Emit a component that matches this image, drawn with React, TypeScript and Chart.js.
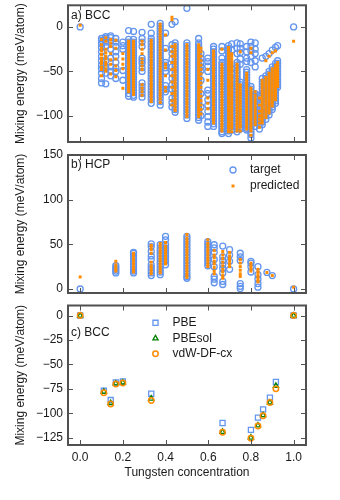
import React, { useEffect, useRef } from 'react';
import { Chart, registerables } from 'chart.js';

Chart.register(...registerables);

const FONT = '"Liberation Sans", Arial, sans-serif';
const TEXT = '#1a1a1a';
const BLUE = '#6495ED';
const ORANGE = '#FF8C00';
const GREEN = '#008000';
const FRAME = '#505050';

// ---- tick values ----
const xTickValues = [0, 0.2, 0.4, 0.6, 0.8, 1.0];
const bccYTicks = [-100, -50, 0];
const hcpYTicks = [0, 50, 100, 150];
const dftYTicks = [-125, -100, -75, -50, -25, 0];

// ---- panel a) BCC: target vs predicted ----
const bccConc = [
  0.0, 0.1, 0.12, 0.143, 0.167, 0.2, 0.227, 0.25, 0.29, 0.333, 0.375, 0.4, 0.43, 0.445,
  0.5, 0.555, 0.566, 0.598, 0.625, 0.664, 0.695, 0.71, 0.735, 0.75, 0.78, 0.8, 0.82,
  0.84, 0.853, 0.87, 0.885, 0.9, 0.915, 0.925, 1.0,
];
const bccTarget = [
  [0],
  [-13, -15, -19, -23, -28, -33, -38, -43, -47, -52, -58, -63],
  [-11, -13, -17, -22, -38, -45, -52, -64],
  [-10, -12, -16, -25, -35, -45, -50, -55],
  [-13, -17, -22, -28, -33, -40, -46, -50, -58],
  [-17, -21, -25, -49, -60],
  [-4, -14, -17, -20, -23, -26, -29, -32, -35, -38, -41, -44, -47, -50, -53, -56, -59, -62, -65, -68, -71, -75, -78],
  [-5, -14, -17, -20, -23, -26, -29, -32, -35, -38, -41, -44, -47, -50, -53, -56, -59, -62, -65, -68, -71, -74, -77, -79],
  [-6, -13, -17, -22, -35, -38, -41, -46, -50, -63, -67, -71, -75, -79],
  [3, -7, -13, -16, -19, -22, -25, -28, -31, -34, -37, -40, -43, -46, -49, -52, -55, -58, -61, -64, -67, -70, -73, -76, -79, -82, -86],
  [4, 1, -2, -5, -8, -11, -14, -17, -20, -23, -26, -29, -32, -35, -38, -41, -44, -47, -50, -53, -56, -59, -62, -65, -68, -71, -74, -77, -80, -84, -88],
  [-7, -24, -40, -43, -46, -50, -66, -70, -73],
  [3, -20, -25, -30, -36, -45, -52, -58, -65, -70, -80, -85, -90],
  [6, -18, -21, -24, -27, -30, -33, -36, -39, -42, -45, -48, -51, -54, -57, -60, -63, -66, -69, -72, -75, -78, -81, -84, -87, -90, -93, -96],
  [21, -18, -21, -24, -27, -30, -33, -36, -39, -42, -45, -48, -51, -54, -57, -60, -63, -66, -69, -72, -75, -78, -81, -84, -87, -90, -93, -96, -99, -103],
  [-13, -18, -21, -24, -27, -30, -33, -36, -39, -42, -45, -48, -51, -54, -57, -60, -63, -66, -69, -72, -75, -78, -81, -84, -87, -90, -93, -96, -99, -102, -105],
  [-30, -35, -40, -45, -49, -60, -75, -90, -100],
  [-35, -39, -44, -50, -71, -75, -82, -88, -95, -101, -107, -112],
  [-22, -25, -28, -31, -34, -37, -40, -43, -46, -49, -52, -55, -58, -61, -64, -67, -70, -73, -76, -79, -82, -85, -88, -91, -94, -97, -100, -103, -106, -109, -112],
  [-22, -27, -35, -40, -43, -46, -49, -52, -55, -58, -61, -64, -67, -70, -73, -76, -79, -82, -85, -88, -91, -94, -97, -100, -103, -106, -109, -112, -115, -118, -120],
  [-21, -24, -27, -30, -33, -36, -39, -42, -45, -48, -51, -54, -57, -60, -63, -66, -69, -72, -75, -78, -81, -84, -87, -90, -93, -96, -99, -102, -105, -108, -111, -114, -117, -120],
  [-19, -26, -47, -52, -60, -64, -68, -72, -76, -80, -84, -88, -92, -96, -100, -104, -108, -112, -116],
  [-18, -24, -30, -40, -43, -46, -49, -52, -55, -58, -61, -64, -67, -70, -73, -76, -79, -82, -85, -88, -91, -94, -97, -100, -103, -106, -109, -112, -115, -118],
  [-19, -24, -29, -36, -42, -62, -65, -68, -71, -74, -77, -80, -83, -86, -89, -92, -95, -98, -101, -104, -107, -110, -113, -115],
  [-22, -28, -35, -39, -48, -51, -54, -57, -60, -63, -66, -69, -72, -75, -78, -81, -84, -87, -90, -93, -96, -99, -102, -105, -108, -111, -114, -116],
  [-17, -22, -27, -33, -40, -67, -70, -73, -76, -79, -82, -85, -88, -91, -94, -97, -100, -103, -106, -109, -112, -115, -118, -121, -125],
  [-18, -25, -30, -38, -45, -75, -78, -81, -84, -87, -90, -93, -96, -99, -102, -105, -108, -112],
  [-77, -85, -92, -97, -101, -105, -110, -115],
  [-35, -58, -62, -66, -70, -74, -78, -82, -86, -90, -94, -98, -103, -107, -110],
  [-33, -55, -58, -61, -64, -67, -70, -73, -76, -79, -82, -85, -88, -91, -94, -97, -100, -104],
  [-30, -50, -53, -56, -59, -62, -65, -68, -71, -74, -77, -80, -83, -86, -89, -92, -95, -99],
  [-26, -45, -48, -51, -54, -57, -60, -63, -66, -69, -72, -75, -78, -81, -84, -87, -90, -93],
  [-23, -41, -44, -47, -50, -53, -56, -59, -62, -65, -68, -71, -74, -77, -80, -83, -86],
  [-21, -38, -41, -44, -47, -50, -53, -56, -59, -62, -65, -68],
  [0],
];
const bccPredicted = [
  [2],
  [-14, -20, -24, -27, -31, -35, -38, -41, -45, -48, -55],
  [-12, -16, -25, -29, -33, -36, -40, -43, -47, -50],
  [-14, -18, -22, -30, -37, -42, -53],
  [-15, -24, -36, -44, -49, -56],
  [-30, -36, -42, -47, -69],
  [-16, -19, -22, -25, -28, -31, -34, -37, -40, -43, -46, -49, -52, -55, -58, -61, -64, -67, -70, -73],
  [-16, -19, -22, -25, -28, -31, -34, -37, -40, -43, -46, -49, -52, -55, -58, -61, -64, -67, -70, -73, -76],
  [-16, -20, -25, -30, -36, -40, -44, -48, -65, -69, -73, -77],
  [-15, -18, -21, -24, -27, -30, -33, -36, -39, -42, -45, -48, -51, -54, -57, -60, -63, -66, -69, -72, -75, -78, -81, -84],
  [3, 0, -3, -6, -9, -12, -15, -18, -21, -24, -27, -30, -33, -36, -39, -42, -45, -48, -51, -54, -57, -60, -63, -66, -69, -72, -75, -78, -81, -85],
  [-9, -26, -42, -46, -55, -68, -72],
  [8, 11, -22, -28, -33, -40, -48, -55, -62, -68, -75, -83, -88],
  [-20, -23, -26, -29, -32, -35, -38, -41, -44, -47, -50, -53, -56, -59, -62, -65, -68, -71, -74, -77, -80, -83, -86, -89, -92, -94],
  [-20, -23, -26, -29, -32, -35, -38, -41, -44, -47, -50, -53, -56, -59, -62, -65, -68, -71, -74, -77, -80, -83, -86, -89, -92, -95, -98, -101],
  [-20, -23, -26, -29, -32, -35, -38, -41, -44, -47, -50, -53, -56, -59, -62, -65, -68, -71, -74, -77, -80, -83, -86, -89, -92, -95, -98, -101],
  [-24, -28, -33, -38, -43, -48, -53, -58, -63, -68, -73, -78, -83, -88, -93, -98],
  [-48, -60, -80, -86, -92],
  [-27, -30, -33, -36, -39, -42, -45, -48, -51, -54, -57, -60, -63, -66, -69, -72, -75, -78, -81, -84, -87, -90, -93, -96, -99, -102, -105, -108],
  [-25, -42, -45, -48, -51, -54, -57, -60, -63, -66, -69, -72, -75, -78, -81, -84, -87, -90, -93, -96, -99, -102, -105, -108, -111, -114, -117],
  [-23, -26, -29, -32, -35, -38, -41, -44, -47, -50, -53, -56, -59, -62, -65, -68, -71, -74, -77, -80, -83, -86, -89, -92, -95, -98, -101, -104, -107, -110, -113, -116, -118],
  [-30, -33, -36, -39, -42, -45, -48, -51, -54, -57, -60, -63, -66, -69, -72, -75, -78, -81, -84, -87, -90, -93, -96, -99, -102, -105, -108, -111, -114, -118],
  [-42, -45, -48, -51, -54, -57, -60, -63, -66, -69, -72, -75, -78, -81, -84, -87, -90, -93, -96, -99, -102, -105, -108, -111, -114, -117],
  [-28, -65, -68, -71, -74, -77, -80, -83, -86, -89, -92, -95, -98, -101, -104, -107, -110, -113, -117],
  [-52, -55, -58, -61, -64, -67, -70, -73, -76, -79, -82, -85, -88, -91, -94, -97, -100, -103, -106, -109, -112, -115],
  [-24, -29, -69, -72, -75, -78, -81, -84, -87, -90, -93, -96, -99, -102, -105, -108, -111, -114, -117, -122],
  [-73, -77, -80, -83, -86, -89, -92, -95, -98, -101, -104, -107, -110],
  [-80, -88, -95, -100, -104, -108, -113],
  [-60, -63, -66, -69, -72, -75, -78, -81, -84, -87, -90, -93, -96, -99, -102, -105, -108],
  [-38, -57, -60, -63, -66, -69, -72, -75, -78, -81, -84, -87, -90, -93, -96, -99, -102],
  [-33, -52, -55, -58, -61, -64, -67, -70, -73, -76, -79, -82, -85, -88, -91, -94, -97],
  [-29, -47, -50, -53, -56, -59, -62, -65, -68, -71, -74, -77, -80, -83, -86, -89],
  [-27, -43, -46, -49, -52, -55, -58, -61, -64, -67, -70, -73, -76, -79, -82],
  [-40, -43, -46, -49, -52, -55, -58, -61, -64, -67],
  [-16],
];

// ---- panel b) HCP: target vs predicted ----
const hcpConc = [0.0, 0.167, 0.25, 0.333, 0.375, 0.4, 0.5, 0.598, 0.628, 0.668, 0.7, 0.75, 0.8, 0.833, 0.875, 0.9, 1.0];
const hcpTarget = [
  [0],
  [18, 20, 22, 24, 26],
  [18, 20, 22, 25, 28, 31, 34, 37, 40, 41],
  [15, 18, 21, 24, 27, 33, 37, 42, 47.5, 50.6],
  [16, 19, 22, 25, 28, 31, 34, 37, 40, 43, 46, 49.5],
  [59, 55, 49.5, 46, 43, 40, 37, 34, 31, 27],
  [59, 56, 53, 50, 47, 44, 41, 38, 35, 32, 29, 26, 23, 20, 17, 14, 12],
  [53, 50, 47, 44, 41, 38, 35, 32, 29, 26],
  [49.5, 46, 41, 33, 25, 14, 11, 7],
  [48, 36, 32, 27, 23, 18, 8.5, 5],
  [44, 38, 31, 22],
  [40, 36, 32, 6, 3, 0.5],
  [31, 29, 25, 19],
  [25, 16, 11, 6, 2],
  [18.5],
  [15],
  [0],
];
const hcpPredicted = [
  [13.5],
  [31, 27, 24, 22, 20],
  [19, 21, 23, 26, 29, 32, 35, 38, 40],
  [17, 20, 23, 26, 30, 40, 44, 47, 49],
  [18, 21, 24, 27, 30, 33, 36, 39, 42, 45, 48, 51],
  [52, 48, 45, 42, 39, 36, 33, 30, 28],
  [61, 57, 54, 51, 48, 45, 42, 39, 36, 33, 30, 27, 24, 21, 18, 15, 13],
  [55, 51, 48, 45, 42, 39, 36, 33, 30, 27, 25],
  [43, 38, 35, 31, 28, 24, 20, 17],
  [42, 38, 34, 30, 26, 22, 19, 15, 12],
  [41, 37, 34, 31, 28, 25],
  [33, 29, 25, 21, 17, 14],
  [29, 26, 23, 20],
  [22, 19, 16, 13, 10, 8],
  [18.5],
  [15],
  [2],
];

// ---- panel c) BCC: functionals ----
const dftConc = [0.0, 0.111, 0.143, 0.167, 0.2, 0.333, 0.667, 0.8, 0.833, 0.857, 0.889, 0.917, 1.0];
const pbe = [0, -77, -86.5, -68.5, -67.5, -80, -110, -117, -104.5, -96, -84, -68, 0];
const pbesol = [0, -78, -89.5, -69.5, -68.5, -85, -119, -125, -112.5, -102, -89, -72, 0];
const vdwDfCx = [0, -79, -90.5, -70, -69, -87, -119.5, -125.5, -113, -102.5, -89, -75, 0];

const toPoints = (xs: number[], groups: number[][]) =>
  xs.flatMap((x, i) => groups[i].map((y) => ({ x, y })));
const toPairs = (xs: number[], ys: number[]) => xs.map((x, i) => ({ x, y: ys[i] }));

const minus = (v: number | string) => String(v).replace('-', '\u2212');

type LegendItem = { text: string; style: 'circle' | 'rect' | 'triangle'; color: string; fill: boolean; r: number; lw: number };
type Decor = {
  yTicks: number[];
  label: string;
  labelDx: number;
  labelDy: number;
  legend: LegendItem[];
  legendDx: number;
  legendDy: number;
  legendGap: number;
};

function drawMarker(ctx: CanvasRenderingContext2D, it: LegendItem, x: number, y: number) {
  ctx.beginPath();
  if (it.style === 'circle') {
    ctx.arc(x, y, it.r, 0, Math.PI * 2);
  } else if (it.style === 'rect') {
    const s = it.r * Math.SQRT1_2;
    ctx.rect(x - s, y - s, 2 * s, 2 * s);
  } else {
    for (let k = 0; k < 3; k++) {
      const a = (k * 2 * Math.PI) / 3;
      const px = x + Math.sin(a) * it.r;
      const py = y - Math.cos(a) * it.r;
      if (k === 0) ctx.moveTo(px, py);
      else ctx.lineTo(px, py);
    }
    ctx.closePath();
  }
  if (it.fill) {
    ctx.fillStyle = it.color;
    ctx.fill();
  } else {
    ctx.strokeStyle = it.color;
    ctx.lineWidth = it.lw;
    ctx.stroke();
  }
}

function makeDecor(cfg: Decor) {
  return {
    id: 'decor',
    afterDatasetsDraw(chart: any) {
      const { ctx, chartArea } = chart;
      const { left, right, top, bottom } = chartArea;
      const xs = chart.scales.x;
      const ys = chart.scales.y;
      ctx.save();
      ctx.strokeStyle = FRAME;
      ctx.lineWidth = 1;
      ctx.beginPath();
      for (const v of xTickValues) {
        const px = Math.round(xs.getPixelForValue(v)) + 0.5;
        ctx.moveTo(px, bottom);
        ctx.lineTo(px, bottom - 5);
        ctx.moveTo(px, top);
        ctx.lineTo(px, top + 5);
      }
      for (const v of cfg.yTicks) {
        const py = Math.round(ys.getPixelForValue(v)) + 0.5;
        ctx.moveTo(left, py);
        ctx.lineTo(left + 5, py);
        ctx.moveTo(right, py);
        ctx.lineTo(right - 5, py);
      }
      ctx.stroke();
      ctx.lineWidth = 2;
      ctx.strokeRect(left, top, right - left, bottom - top);

      ctx.font = `12px ${FONT}`;
      ctx.fillStyle = TEXT;
      ctx.textBaseline = 'middle';
      ctx.textAlign = 'left';
      ctx.fillText(cfg.label, left + cfg.labelDx, top + cfg.labelDy);

      cfg.legend.forEach((it, i) => {
        const mx = left + cfg.legendDx;
        const my = top + cfg.legendDy + i * cfg.legendGap;
        drawMarker(ctx, it, mx, my);
        ctx.fillStyle = TEXT;
        ctx.fillText(it.text, mx + 17, my);
      });
      ctx.restore();
    },
  };
}

const tickFont = { family: FONT, size: 12 };

function yScale(min: number, max: number, ticks: number[]) {
  return {
    type: 'linear',
    min,
    max,
    afterBuildTicks: (s: any) => {
      s.ticks = ticks.map((value) => ({ value }));
    },
    afterFit: (s: any) => {
      s.width = 68;
      s.paddingTop = 0;
      s.paddingBottom = 0;
    },
    grid: { display: false, drawTicks: false },
    border: { display: false },
    ticks: { padding: 5, color: TEXT, font: tickFont, callback: (v: any) => minus(v) },
    title: {
      display: true,
      text: 'Mixing energy (meV/atom)',
      color: TEXT,
      font: tickFont,
      padding: { top: 13, bottom: 0 },
    },
  };
}

function xScale(withLabels: boolean) {
  return {
    type: 'linear',
    min: -0.057,
    max: 1.058,
    afterBuildTicks: (s: any) => {
      s.ticks = xTickValues.map((value) => ({ value }));
    },
    afterFit: (s: any) => {
      s.height = withLabels ? 55 : 0;
      s.paddingLeft = 0;
      s.paddingRight = 0;
    },
    grid: { display: false, drawTicks: false },
    border: { display: false },
    ticks: {
      display: withLabels,
      padding: 5,
      color: TEXT,
      font: tickFont,
      maxRotation: 0,
      autoSkip: false,
      callback: (v: any) => Number(v).toFixed(1),
    },
    title: {
      display: withLabels,
      text: 'Tungsten concentration',
      color: TEXT,
      font: tickFont,
      padding: { top: 0, bottom: 20 },
    },
  };
}

const targetLegend: LegendItem = { text: 'target', style: 'circle', color: BLUE, fill: false, r: 3, lw: 1.3 };
const predLegend: LegendItem = { text: 'predicted', style: 'rect', color: ORANGE, fill: true, r: 2.1, lw: 0 };

function useChart(ref: React.RefObject<HTMLCanvasElement | null>, build: () => any) {
  useEffect(() => {
    if (!ref.current) return;
    const chart = new Chart(ref.current, build());
    return () => chart.destroy();
  }, []);
}

function baseOptions(padding: any, yMin: number, yMax: number, yTicks: number[], xLabels: boolean) {
  return {
    responsive: false,
    animation: false,
    devicePixelRatio: 1,
    layout: { padding },
    plugins: { legend: { display: false }, tooltip: { enabled: false } },
    scales: { x: xScale(xLabels), y: yScale(yMin, yMax, yTicks) },
  };
}

export default function App() {
  const refA = useRef<HTMLCanvasElement>(null);
  const refB = useRef<HTMLCanvasElement>(null);
  const refC = useRef<HTMLCanvasElement>(null);

  useChart(refA, () => ({
    type: 'scatter',
    data: {
      datasets: [
        {
          label: 'predicted',
          data: toPoints(bccConc, bccPredicted),
          pointStyle: 'rect',
          pointRadius: 2.1,
          pointBorderWidth: 0,
          backgroundColor: ORANGE,
          borderColor: ORANGE,
        },
        {
          label: 'target',
          data: toPoints(bccConc, bccTarget),
          pointStyle: 'circle',
          pointRadius: 3,
          pointBorderWidth: 1.3,
          backgroundColor: 'rgba(0,0,0,0)',
          borderColor: BLUE,
        },
      ],
    },
    options: baseOptions({ top: 5, bottom: 8, left: 0, right: 34 }, -129.5, 24.4, bccYTicks, false),
    plugins: [
      makeDecor({ yTicks: bccYTicks, label: 'a) BCC', labelDx: 3, labelDy: 10, legend: [], legendDx: 0, legendDy: 0, legendGap: 0 }),
    ],
  }));

  useChart(refB, () => ({
    type: 'scatter',
    data: {
      datasets: [
        {
          label: 'predicted',
          data: toPoints(hcpConc, hcpPredicted),
          pointStyle: 'rect',
          pointRadius: 2.1,
          pointBorderWidth: 0,
          backgroundColor: ORANGE,
          borderColor: ORANGE,
        },
        {
          label: 'target',
          data: toPoints(hcpConc, hcpTarget),
          pointStyle: 'circle',
          pointRadius: 3,
          pointBorderWidth: 1.3,
          backgroundColor: 'rgba(0,0,0,0)',
          borderColor: BLUE,
        },
      ],
    },
    options: baseOptions({ top: 15, bottom: 7, left: 0, right: 34 }, -4.5, 150, hcpYTicks, false),
    plugins: [
      makeDecor({
        yTicks: hcpYTicks,
        label: 'b) HCP',
        labelDx: 3,
        labelDy: 10,
        legend: [targetLegend, predLegend],
        legendDx: 165,
        legendDy: 15,
        legendGap: 16,
      }),
    ],
  }));

  useChart(refC, () => ({
    type: 'scatter',
    data: {
      datasets: [
        {
          label: 'vdW-DF-cx',
          data: toPairs(dftConc, vdwDfCx),
          pointStyle: 'circle',
          pointRadius: 2.7,
          pointBorderWidth: 1.5,
          backgroundColor: 'rgba(0,0,0,0)',
          borderColor: ORANGE,
        },
        {
          label: 'PBEsol',
          data: toPairs(dftConc, pbesol),
          pointStyle: 'triangle',
          pointRadius: 3,
          pointBorderWidth: 1.3,
          backgroundColor: 'rgba(0,0,0,0)',
          borderColor: GREEN,
        },
        {
          label: 'PBE',
          data: toPairs(dftConc, pbe),
          pointStyle: 'rect',
          pointRadius: 3.6,
          pointBorderWidth: 1.3,
          backgroundColor: 'rgba(0,0,0,0)',
          borderColor: BLUE,
        },
      ],
    },
    options: baseOptions({ top: 5, bottom: 0, left: 0, right: 34 }, -132.5, 10.3, dftYTicks, true),
    plugins: [
      makeDecor({
        yTicks: dftYTicks,
        label: 'c) BCC',
        labelDx: 3,
        labelDy: 26.7,
        legend: [
          { text: 'PBE', style: 'rect', color: BLUE, fill: false, r: 3.6, lw: 1.3 },
          { text: 'PBEsol', style: 'triangle', color: GREEN, fill: false, r: 3, lw: 1.3 },
          { text: 'vdW-DF-cx', style: 'circle', color: ORANGE, fill: false, r: 2.7, lw: 1.5 },
        ],
        legendDx: 87.5,
        legendDy: 17.3,
        legendGap: 15.5,
      }),
    ],
  }));

  const base: React.CSSProperties = { position: 'absolute', left: 0, display: 'block' };
  return (
    <div style={{ position: 'absolute', left: 0, top: 0, width: 340, height: 500, background: '#fff' }}>
      <canvas ref={refA} width={340} height={150} style={{ ...base, top: 0 }} />
      <canvas ref={refB} width={340} height={160} style={{ ...base, top: 140 }} />
      <canvas ref={refC} width={340} height={200} style={{ ...base, top: 300 }} />
    </div>
  );
}
